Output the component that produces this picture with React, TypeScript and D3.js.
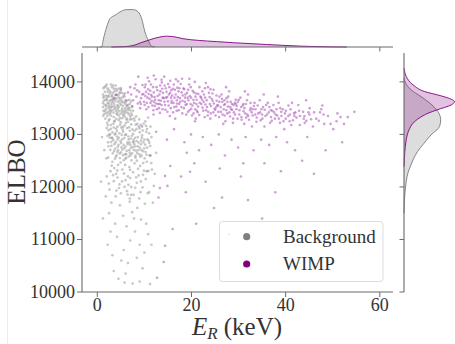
import React from "react";
import * as d3 from "d3";

const xTicks = [0, 20, 40, 60];
const yTicks = [10000, 11000, 12000, 13000, 14000];
const seriesNames = ["Background", "WIMP"];
const seriesColors = ["#808080", "#800080"];

// Background events: [E_R (keV), ELBO]
const bgPoints: [number, number][] = [
  [1.3,13880],[1.8,13920],[2.4,13850],[3.1,13900],[3.7,13820],[4.5,13870],[5.2,13790],[1.2,13760],[1.9,13740],[2.7,13780],
  [3.4,13700],[4.1,13760],[4.9,13690],[5.8,13720],[6.4,13650],[1.4,13640],[2.2,13600],[2.9,13660],[3.6,13580],[4.3,13620],
  [5.0,13560],[5.6,13610],[6.2,13540],[6.9,13580],[1.2,13520],[1.8,13480],[2.5,13540],[3.2,13460],[3.9,13510],[4.6,13440],
  [5.3,13490],[6.0,13420],[6.6,13470],[7.2,13400],[1.5,13390],[2.1,13350],[2.8,13410],[3.5,13330],[4.2,13380],[4.8,13310],
  [5.5,13360],[6.3,13300],[7.0,13340],[1.3,13700],[1.6,13810],[2.0,13690],[2.6,13640],[3.0,13560],[3.3,13790],[3.8,13640],
  [4.4,13540],[4.7,13780],[5.1,13650],[5.9,13500],[6.7,13380],[2.3,13430],[2.0,13950],[2.9,13950],[3.9,13930],[1.5,13570],
  [2.4,13720],[3.1,13520],[4.0,13450],[4.5,13700],[5.4,13420],[6.1,13620],[7.4,13520],[1.7,13300],[2.6,13290],[3.7,13260],
  [1.3,13450],[1.2,13600],[2.2,13810],[3.5,13870],[4.2,13830],[5.6,13740],[6.8,13660],[5.0,13880],[2.8,13510],[3.3,13620],
  [4.8,13590],[5.7,13450],[6.5,13560],[1.9,13560],[2.5,13380],[3.0,13720],[4.0,13680],[4.6,13360],[5.3,13310],[7.6,13450],
  [1.55,13905],[2.15,13875],[2.75,13815],[3.35,13935],[3.95,13865],[4.85,13805],[1.45,13725],[2.05,13655],[2.45,13585],[3.15,13745],
  [3.65,13485],[4.25,13555],[4.65,13645],[5.35,13705],[5.95,13585],[6.55,13505],[7.05,13455],[1.65,13445],[2.35,13505],[2.95,13355],
  [3.45,13415],[4.05,13295],[4.95,13395],[5.85,13335],[6.45,13415],[7.35,13365],[7.85,13305],[1.25,13355],[1.95,13405],[3.85,13755],
  [4.35,13475],[5.45,13545],[6.15,13465],[1.75,13655],[2.65,13465],[3.55,13535],[5.15,13455],[6.85,13505],[3.25,13655],[4.45,13745],
  [2.35,13735],[3.05,13605],[3.75,13695],[4.55,13515],[5.25,13615],[6.35,13555],[7.15,13625],[1.85,13535],[2.85,13445],[4.15,13405],
  [5.65,13385],[6.95,13285],[8.25,13345],[8.9,13285],
  [2.1,13220],[2.9,13180],[3.6,13250],[4.3,13150],[5.0,13230],[5.8,13170],[6.5,13240],[7.2,13190],[7.9,13260],[8.5,13200],
  [2.4,13080],[3.2,13040],[4.0,13110],[4.7,13020],[5.4,13090],[6.1,13000],[6.9,13070],[7.6,13010],[8.3,13100],[9.0,13040],
  [2.6,12940],[3.4,12890],[4.2,12960],[4.9,12870],[5.7,12930],[6.4,12850],[7.1,12920],[7.8,12860],[8.6,12950],[9.3,12880],
  [3.0,12780],[3.8,12730],[4.5,12800],[5.3,12710],[6.0,12770],[6.8,12700],[7.5,12760],[8.2,12690],[9.0,12750],[9.7,12680],
  [3.3,12640],[4.1,12600],[5.0,12660],[5.9,12620],[6.7,12580],[7.4,12640],[8.1,12590],[8.9,12620],[2.0,13120],[2.7,13000],
  [3.9,12850],[5.2,12990],[6.3,13120],[7.0,12800],[7.7,12900],[8.8,13150],[9.5,12980],[4.6,13270],[5.6,12800],[6.6,12960],
  [3.1,12940],[4.4,12700],[8.0,12770],[9.8,12850],[6.2,13280],[5.1,13130],[7.3,13290],[2.3,12850],[3.5,13130],[6.0,12540],
  [4.8,12550],[8.4,12500],[7.9,13070],[9.2,13180],[10.0,12900],[3.7,13000],[4.3,12900],[5.5,13050],[6.9,12650],[8.7,12700],
  [10.4,13050],[10.9,12880],[11.3,13150],[10.6,12750],[11.1,12600],[10.2,13250],[11.5,12950],[10.8,13320],
  [2.25,13175],[2.85,13105],[3.45,13205],[4.15,13065],[4.85,13185],[5.45,13145],[6.05,13215],[6.75,13135],[7.45,13095],[8.15,13185],
  [8.95,13115],[9.65,13075],[10.35,13165],[2.55,12995],[3.15,12925],[3.85,13015],[4.55,12935],[5.25,12905],[5.95,12985],[6.65,12905],
  [7.35,12975],[8.05,12935],[8.75,12845],[9.45,12935],[10.15,12805],[11.0,13020],[2.95,12855],[3.65,12815],[4.35,12765],[5.05,12835],
  [5.75,12735],[6.45,12815],[7.15,12745],[7.85,12815],[8.55,12775],[9.25,12815],[9.95,12735],[10.65,12905],[3.55,12685],[4.25,12665],
  [5.45,12605],[6.25,12685],[7.05,12605],[7.75,12705],[8.45,12645],[9.15,12575],[10.45,12615],[2.45,13265],[11.25,12780],[2.15,12975],
  [9.85,13205],[10.55,13105],[11.05,12840],[9.35,12705],[10.25,12665],[8.35,12875],[7.55,12855],[6.85,12845],[6.15,12625],[5.15,12755],
  [4.75,12635],[3.95,12575],[2.75,12705],[2.35,12775],[1.95,12545],
  [3.2,12480],[4.4,12420],[5.6,12510],[6.8,12380],[7.9,12450],[9.1,12400],[2.8,12300],[4.0,12250],[5.3,12330],[6.5,12200],
  [7.6,12280],[8.8,12220],[9.9,12310],[3.5,12110],[4.7,12050],[6.0,12130],[7.2,12000],[8.4,12080],[9.6,11990],[2.6,11950],
  [5.0,11880],[6.3,11920],[7.7,11850],[9.2,11900],[10.3,12150],[3.9,11820],[8.1,12560],[10.5,12480],[2.3,12560],[5.9,12420],
  [7.0,12170],[4.6,11980],[9.4,12600],[6.6,12040],[2.0,12200],[3.6,12360],[5.8,12000],[8.9,11780],[10.7,11880],[12.2,12250],
  [11.8,11700],[1.8,11820],[4.3,12180],[6.9,11780],[9.7,12230],[12.5,12650],
  [3.75,12535],[4.95,12465],[6.15,12555],[7.25,12505],[8.65,12345],[9.75,12455],[3.05,12405],[5.65,12255],[6.95,12325],[8.25,12185],
  [4.25,12315],[10.05,12545],[11.45,12455],[10.85,12305],[9.25,12105],[8.05,11985],[6.45,11855],[5.25,12105],[3.35,12225],[2.45,12065],
  [12.0,12020],[11.6,12330],[4.05,11930],
  [3.0,11700],[4.8,11650],[6.9,11720],[8.5,11600],[10.1,11680],[2.5,11500],[5.5,11450],[7.4,11520],[9.3,11380],[3.8,11300],
  [6.2,11250],[8.0,11150],[10.4,11300],[4.2,11050],[7.0,10980],[9.0,10900],[5.6,10800],[3.2,10700],[8.4,10650],[6.5,10550],
  [10.0,10750],[2.8,11150],[11.0,11900],[5.1,10600],[7.8,11400],[0.8,12100],[1.2,11400],[1.5,12700],[1.0,12950],
  [5.8,10180],[7.5,10160],[9.0,10200],[11.2,10150],[3.5,10400],[6.0,10350],[9.6,10450],[11.5,10900],[2.2,10900],[4.5,10250],
  [10.8,11100],[7.2,11850],
];

// WIMP events: [E_R (keV), ELBO]
const wimpPoints: [number, number][] = [
  [7.2,13760],[7.6,13650],[7.9,13880],[8.3,13720],[8.6,13590],[8.9,13810],[9.3,13690],[9.6,13940],[9.9,13620],[7.4,13540],
  [8.1,13950],[9.1,13500],[9.8,13770],[8.7,14100],[6.5,13800],[5.8,13780],[7.0,13900],[4.0,13750],[5.0,13850],[3.5,13680],[6.0,13650],
  [10.2,13730],[10.5,13600],[10.8,13860],[11.1,13680],[11.4,13950],[11.7,13550],[12.0,13800],[12.3,13660],[12.6,13900],[12.9,13580],
  [13.2,13760],[13.5,13640],[13.8,13870],[10.4,13480],[11.0,14010],[11.9,13460],[12.4,14050],[13.1,13500],[13.7,13990],[10.9,13770],
  [11.6,13720],[12.8,13730],[13.4,13820],[10.1,13900],[11.3,13600],[12.2,13540],[13.9,13700],[10.7,14080],[12.0,14120],[13.3,13410],
  [14.1,13690],[14.4,13560],[14.7,13810],[15.0,13630],[15.3,13900],[15.6,13500],[15.9,13740],[16.2,13600],[16.5,13850],[16.8,13530],
  [17.1,13710],[17.4,13580],[17.7,13960],[14.3,13930],[14.9,13430],[15.5,14020],[16.1,13420],[16.7,14050],[17.3,13460],[17.9,13800],
  [14.6,13700],[15.2,13760],[15.8,13640],[16.4,13700],[17.0,13890],[14.2,14100],[15.4,13350],[16.9,13650],[17.6,13620],[15.7,13840],
  [18.1,13640],[18.4,13500],[18.7,13760],[19.0,13580],[19.3,13850],[19.6,13460],[19.9,13700],[20.2,13550],[20.5,13800],[20.8,13480],
  [21.1,13660],[21.4,13530],[21.7,13900],[18.3,13880],[18.9,13380],[19.5,13950],[20.1,13360],[20.7,14000],[21.3,13420],[21.9,13720],
  [18.6,13620],[19.2,13700],[19.8,13580],[20.4,13660],[21.0,13780],[18.0,14060],[20.9,13300],
  [8.45,13840],[9.05,13620],[9.55,13760],[10.05,13560],[10.35,13810],[10.65,13700],[11.25,13830],[11.55,13640],[11.85,13900],[12.15,13710],
  [12.45,13590],[12.75,13840],[13.05,13650],[13.35,13930],[13.65,13560],[13.95,13790],[14.25,13620],[14.55,13880],[14.85,13710],[15.15,13550],
  [15.45,13790],[15.75,13600],[16.05,13870],[16.35,13520],[16.65,13760],[16.95,13590],[17.25,13820],[17.55,13690],[17.85,13520],[18.15,13740],
  [18.45,13860],[18.75,13560],[19.05,13790],[19.35,13650],[19.65,13730],[19.95,13490],[20.25,13830],[20.55,13600],[20.85,13720],[21.15,13450],
  [21.45,13770],[21.75,13600],[22.05,13700],[22.35,13510],[22.65,13760],[22.95,13570],[23.25,13650],[23.55,13430],[23.85,13710],[24.15,13540],
  [24.45,13780],[24.75,13590],[25.05,13470],[25.35,13640],[25.65,13550],[25.95,13720],[26.25,13430],[26.55,13620],[26.85,13480],[27.15,13580],
  [27.45,13690],[27.75,13530],[28.05,13420],[28.35,13620],[28.65,13470],[28.95,13560],[29.25,13380],[29.55,13480],[29.85,13620],[30.15,13380],
  [30.55,13520],[31.05,13440],[31.55,13580],[32.05,13350],[32.55,13600],[33.05,13480],[33.55,13380],[34.05,13550],[34.55,13420],[35.05,13300],
  [35.55,13470],[36.05,13380],[36.55,13520],[37.05,13260],[37.55,13420],[38.05,13480],[38.55,13300],[39.05,13430],[39.55,13250],[40.05,13450],
  [40.55,13350],[41.05,13480],[41.55,13270],[42.05,13420],[43.05,13350],[44.05,13220],[45.05,13380],[46.05,13420],[47.05,13260],[48.05,13380],
  [9.25,13580],[10.25,13950],[10.85,13520],[11.45,13750],[12.05,13620],[12.65,13480],[13.25,13580],[13.85,13480],[14.45,13470],[15.05,13960],
  [15.65,13700],[16.25,13950],[16.85,13450],[17.45,13880],[18.05,13400],[18.65,13700],[19.25,13430],[19.85,13900],[20.45,13400],[21.05,13580],
  [21.65,13370],[22.25,13660],[22.85,13880],[23.45,13360],[24.05,13860],[24.65,13420],[25.25,13520],[25.85,13330],[26.45,13680],[27.05,13360],
  [27.65,13620],[28.25,13520],[28.85,13300],[29.45,13580],[30.05,13660],[30.65,13280],[31.25,13500],[31.85,13380],[32.45,13460],[33.25,13540],
  [33.85,13320],[34.85,13480],[35.85,13560],[36.85,13460],[37.85,13380],[38.85,13500],[39.85,13400],[40.85,13250],[41.85,13350],[42.85,13450],
  [43.85,13300],[44.85,13420],[11.95,13380],[16.55,13300],[20.75,13250],[26.75,13200],[32.85,13150],[17.15,14010],[13.65,14040],[19.55,14060],
  [23.05,13980],[27.35,13900],[31.35,13820],[35.35,13760],[38.35,13720],[41.35,13600],[44.35,13650],[47.55,13480],[49.55,13200],[51.65,13330],
  [22.1,13580],[22.5,13450],[22.9,13700],[23.3,13520],[23.7,13790],[24.1,13400],[24.5,13640],[24.9,13490],[25.3,13740],[25.7,13430],
  [22.3,13820],[22.8,13330],[23.5,13900],[24.0,13300],[24.7,13850],[25.5,13560],[25.9,13620],[22.6,13620],[23.9,13580],[24.3,13680],
  [25.1,13360],[23.1,13460],
  [26.2,13520],[26.6,13380],[27.0,13650],[27.4,13460],[27.8,13720],[28.2,13340],[28.6,13580],[29.0,13420],[29.4,13660],[29.8,13300],
  [26.4,13760],[27.2,13250],[28.0,13820],[28.8,13220],[29.6,13540],[26.9,13560],[27.6,13400],[28.4,13480],[29.2,13600],
  [30.2,13460],[30.6,13330],[31.0,13580],[31.4,13400],[31.8,13650],[32.2,13280],[32.6,13500],[33.0,13360],[33.4,13600],[33.8,13240],
  [30.4,13700],[31.2,13200],[32.0,13760],[32.8,13420],[33.6,13480],[30.9,13550],[31.6,13320],
  [34.2,13400],[34.7,13270],[35.2,13520],[35.7,13350],[36.2,13600],[36.7,13220],[37.2,13450],[37.7,13300],[34.5,13650],[35.5,13150],
  [36.4,13420],[37.4,13560],[35.0,13380],[36.9,13330],
  [38.2,13360],[38.8,13220],[39.4,13480],[40.0,13300],[40.6,13550],[41.2,13180],[41.8,13400],[38.5,13600],[39.7,13100],[40.9,13380],[39.1,13350],
  [42.3,13320],[43.0,13180],[43.7,13430],[44.4,13260],[45.1,13500],[45.8,13150],[42.7,13560],[44.0,13350],[45.4,13290],
  [46.5,13300],[47.3,13420],[48.2,13200],[49.0,13350],[50.1,13100],[51.0,13400],[52.4,13200],[54.6,13430],[47.8,13550],[50.8,13250],[53.2,13330],
  [9.5,13150],[12.5,13050],[14.8,12900],[16.3,13100],[18.5,12850],[19.9,13000],[21.6,12700],[22.4,12950],[24.2,12800],[25.8,13000],
  [27.1,12600],[28.5,12900],[29.9,12750],[31.5,12950],[33.2,12700],[34.8,12900],[36.5,12800],[38.0,12950],[40.3,12850],[42.0,12700],
  [44.6,12950],[11.3,12600],[15.5,12400],[17.8,12200],[20.6,12450],[23.0,12100],[26.0,12350],[30.5,12200],[35.5,12450],[39.0,12300],
  [43.5,12500],[13.0,11800],[18.8,11900],[24.8,11600],[32.0,11750],[37.8,11900],[46.0,12250],[21.0,11300],[28.0,11100],[35.0,11400],
  [41.5,11000],[16.0,11200],[26.5,11800],[10.5,12300],[48.5,12700],[52.0,12850],[31.0,12450],[19.0,12650],
  [14.4,12210],[13.3,11980],[14.9,12020],[14.4,10880],[14.1,10570],[12.7,10270],[19.7,12290],
];

// Marginal density of E_R (relative units)
const topBgE = [0.5, 0.93, 1.3, 1.99, 2.69, 3.75, 4.81, 6.24, 7.64, 8.7, 9.42, 10.12, 10.82, 11.54, 12.2];
const topBgD = [0, 0.002, 0.08, 0.2, 0.284, 0.317, 0.35, 0.374, 0.374, 0.35, 0.284, 0.15, 0.067, 0.007, 0];
const topWimpE = [3, 5.5, 8, 9.1, 11.2, 13.3, 14.7, 16, 18.2, 21.5, 25.3, 28.8, 32.4, 36, 39.4, 43, 46.5, 50, 53];
const topWimpD = [0, 0.003, 0.02, 0.04, 0.073, 0.1, 0.108, 0.105, 0.083, 0.066, 0.054, 0.043, 0.034, 0.025, 0.017, 0.009, 0.004, 0.001, 0];

// Marginal density of ELBO (relative units)
const rightBgY = [14080, 14000, 13850, 13720, 13594, 13480, 13400, 13276, 13149, 12990, 12832, 12673, 12514, 12400, 12270, 12100, 11943, 11750, 11500];
const rightBgD = [0, 0.01, 0.07, 0.17, 0.26, 0.32, 0.35, 0.367, 0.355, 0.27, 0.2, 0.135, 0.09, 0.065, 0.04, 0.022, 0.012, 0.004, 0];
const rightWimpY = [14260, 14229, 14101, 13943, 13816, 13733, 13670, 13625, 13562, 13467, 13403, 13308, 13213, 13086, 12895, 12641, 12387];
const rightWimpD = [0, 0.003, 0.023, 0.09, 0.207, 0.373, 0.473, 0.505, 0.473, 0.33, 0.24, 0.15, 0.09, 0.05, 0.022, 0.007, 0];

const FONT = "'Liberation Serif', 'DejaVu Serif', serif";

export default function App() {
  const W = 455, H = 344;
  const left = 82, right = 393, top = 53, bottom = 292;
  const x = d3.scaleLinear().domain([-3.25, 62.8]).range([left, right]);
  const y = d3.scaleLinear().domain([10000, 14550]).range([bottom, top]);
  const topBase = 47;
  const dTop = d3.scaleLinear().domain([0, 0.41]).range([topBase, 6]);
  const rightBase = 404;
  const dRight = d3.scaleLinear().domain([0, 0.52]).range([rightBase, 456]);

  const topArea = d3.area<[number, number]>()
    .x(d => x(d[0])).y0(topBase).y1(d => dTop(d[1])).curve(d3.curveMonotoneX);
  const topLine = d3.line<[number, number]>()
    .x(d => x(d[0])).y(d => dTop(d[1])).curve(d3.curveMonotoneX);
  const rightArea = d3.area<[number, number]>()
    .y(d => y(d[0])).x0(rightBase).x1(d => dRight(d[1])).curve(d3.curveMonotoneY);
  const rightLine = d3.line<[number, number]>()
    .y(d => y(d[0])).x(d => dRight(d[1])).curve(d3.curveMonotoneY);

  const zip = (a: number[], b: number[]) => a.map((v, i) => [v, b[i]] as [number, number]);
  const topBg = zip(topBgE, topBgD);
  const topWimp = zip(topWimpE, topWimpD);
  const rightBg = zip(rightBgY, rightBgD).reverse();
  const rightWimp = zip(rightWimpY, rightWimpD).reverse();

  const spine = "#6a6a6a";

  return (
    <svg width={W} height={H} style={{ position: "absolute", left: 0, top: 0, background: "#fff" }}
      fontFamily={FONT}>
      <line x1={7.5} x2={7.5} y1={0} y2={H} stroke="#ececec" strokeWidth={1} />

      {/* top marginal */}
      <path d={topArea(topBg) || ""} fill="#808080" fillOpacity={0.27} />
      <path d={topLine(topBg) || ""} fill="none" stroke="#7a7a7a" strokeWidth={0.9} />
      <path d={topArea(topWimp) || ""} fill="#800080" fillOpacity={0.24} />
      <path d={topLine(topWimp) || ""} fill="none" stroke="#800080" strokeWidth={0.9} />
      <line x1={left} x2={right} y1={topBase} y2={topBase} stroke={spine} strokeWidth={1.1} />
      {xTicks.map(t => (
        <line key={"tt" + t} x1={x(t)} x2={x(t)} y1={topBase} y2={topBase + 4.5} stroke={spine} strokeWidth={1} />
      ))}

      {/* right marginal */}
      <path d={rightArea(rightBg) || ""} fill="#808080" fillOpacity={0.27} />
      <path d={rightLine(rightBg) || ""} fill="none" stroke="#7a7a7a" strokeWidth={0.9} />
      <path d={rightArea(rightWimp) || ""} fill="#800080" fillOpacity={0.24} />
      <path d={rightLine(rightWimp) || ""} fill="none" stroke="#800080" strokeWidth={0.9} />
      <line x1={rightBase} x2={rightBase} y1={top} y2={bottom} stroke={spine} strokeWidth={1.1} />
      {yTicks.map(t => (
        <line key={"rt" + t} x1={rightBase - 4.5} x2={rightBase} y1={y(t)} y2={y(t)} stroke={spine} strokeWidth={1} />
      ))}

      {/* scatter */}
      <g>
        {bgPoints.map((p, i) => (
          <circle key={"b" + i} cx={x(p[0])} cy={y(p[1])} r={1.35} fill="#9a9a9a" fillOpacity={0.55} />
        ))}
        {wimpPoints.map((p, i) => (
          <circle key={"w" + i} cx={x(p[0])} cy={y(p[1])} r={1.3} fill="#a040b0" fillOpacity={0.5} />
        ))}
      </g>

      {/* main axes */}
      <line x1={left} x2={left} y1={top} y2={bottom} stroke={spine} strokeWidth={1.1} />
      <line x1={left} x2={right} y1={bottom} y2={bottom} stroke={spine} strokeWidth={1.1} />
      {yTicks.map(t => (
        <g key={"y" + t}>
          <line x1={left - 5} x2={left} y1={y(t)} y2={y(t)} stroke={spine} strokeWidth={1} />
          <text x={left - 7} y={y(t) + 6} textAnchor="end" fontSize={18} fill="#333">{t}</text>
        </g>
      ))}
      {xTicks.map(t => (
        <g key={"x" + t}>
          <line x1={x(t)} x2={x(t)} y1={bottom} y2={bottom + 5} stroke={spine} strokeWidth={1} />
          <text x={x(t)} y={311} textAnchor="middle" fontSize={18} fill="#333">{t}</text>
        </g>
      ))}

      <text x={237} y={335} textAnchor="middle" fontSize={25} fill="#333">
        <tspan fontStyle="italic">E</tspan>
        <tspan fontStyle="italic" fontSize={17} dy={4}>R</tspan>
        <tspan dy={-4}> (keV)</tspan>
      </text>
      <text transform="translate(25,172) rotate(-90)" textAnchor="middle" fontSize={25} fill="#333">ELBO</text>

      {/* legend */}
      <rect x={219.5} y={221.5} width={163.5} height={60} rx={3} fill="#fff" fillOpacity={0.8} stroke="#dcdcdc" strokeWidth={1} />
      {seriesNames.map((n, i) => (
        <g key={n}>
          <circle cx={246.7} cy={236.7 + i * 27.3} r={3.6} fill={seriesColors[i]} />
          <text x={283} y={236.7 + i * 27.3 + 6} fontSize={19} fill="#333">{n}</text>
        </g>
      ))}
    </svg>
  );
}
